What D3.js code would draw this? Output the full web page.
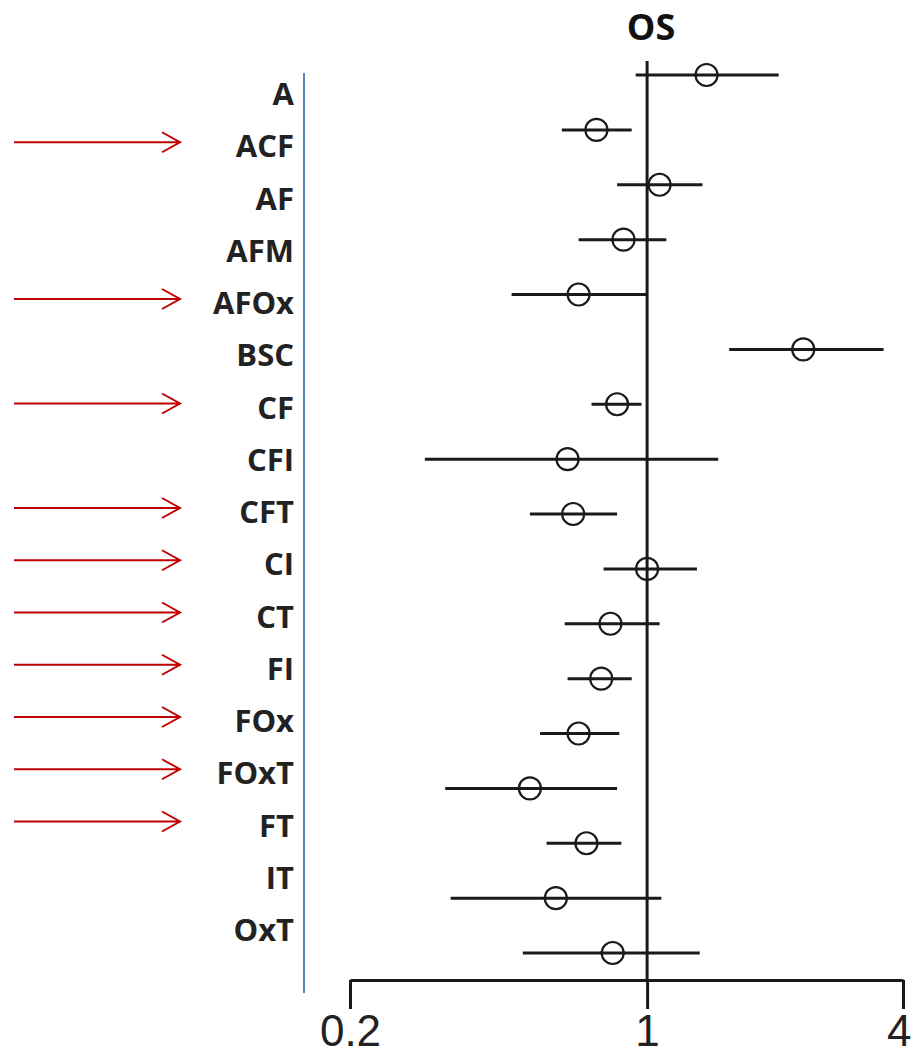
<!DOCTYPE html>
<html>
<head>
<meta charset="utf-8">
<script src="https://cdn.jsdelivr.net/npm/d3@7"></script>
<style>
  html, body { margin: 0; padding: 0; background: #fff; }
  svg { display: block; }
</style>
</head>
<body>
<svg id="chart" width="911" height="1057"></svg>
<script>
// Regimen groups and their hazard ratios for overall survival
const categories = ["A", "ACF", "AF", "AFM", "AFOx", "BSC", "CF", "CFI", "CFT", "CI", "CT", "FI", "FOx", "FOxT", "FT", "IT", "OxT"];
const hr      = [1.38, 0.76, 1.07, 0.88, 0.69, 2.33, 0.85, 0.65, 0.67, 1.00, 0.82, 0.78, 0.69, 0.53, 0.72, 0.61, 0.83];
const ciLower = [0.94, 0.63, 0.85, 0.69, 0.48, 1.56, 0.74, 0.30, 0.53, 0.79, 0.64, 0.65, 0.56, 0.335, 0.58, 0.345, 0.51];
const ciUpper = [2.04, 0.92, 1.35, 1.11, 1.00, 3.60, 0.97, 1.47, 0.85, 1.31, 1.07, 0.92, 0.86, 0.85, 0.87, 1.08, 1.33];
// Groups flagged with a pointer arrow
const highlighted = ["ACF", "AFOx", "CF", "CFT", "CI", "CT", "FI", "FOx", "FOxT", "FT"];
const tickValues = [0.2, 1, 4];
const tickLabels = ["0.2", "1", "4"];
const title = "OS";

const rows = categories.map((c, i) => ({ name: c, hr: hr[i], lo: ciLower[i], hi: ciUpper[i] }));

const svg = d3.select("#chart");

const x = d3.scaleLog().domain([0.2, 4]).range([350, 903]);
const y = d3.scalePoint().domain(categories).range([75, 953]);
const yLabel = d3.scalePoint().domain(categories).range([94, 930]);
const axisY = 980;

// Title
svg.append("text")
  .attr("x", 651).attr("y", 40)
  .attr("text-anchor", "middle")
  .attr("font-family", "'Open Sans', sans-serif")
  .attr("font-weight", 700)
  .attr("font-size", 36)
  .attr("fill", "#111")
  .text(title);

// Separator between labels and plot
svg.append("line")
  .attr("x1", 304).attr("x2", 304)
  .attr("y1", 73).attr("y2", 993)
  .attr("stroke", "#5a87b8").attr("stroke-width", 2);

// Reference line at HR = 1
svg.append("line")
  .attr("x1", x(1)).attr("x2", x(1))
  .attr("y1", 61).attr("y2", axisY)
  .attr("stroke", "#1a1a1a").attr("stroke-width", 3);

// Bottom axis
const axis = d3.axisBottom(x)
  .tickValues(tickValues)
  .tickFormat((d, i) => tickLabels[i])
  .tickSize(29)
  .tickSizeOuter(0)
  .tickPadding(6);

const gAxis = svg.append("g")
  .attr("transform", `translate(0,${axisY})`)
  .call(axis);
gAxis.select(".domain").attr("stroke", "#1a1a1a").attr("stroke-width", 3);
gAxis.selectAll(".tick line").attr("stroke", "#1a1a1a").attr("stroke-width", 3);
gAxis.selectAll(".tick text")
  .attr("font-family", "'Liberation Sans', Arial, sans-serif")
  .attr("font-size", 44)
  .attr("fill", "#222")
  .attr("dy", "0.71em");
// keep the last label inside the page edge
gAxis.selectAll(".tick text")
  .filter(d => d === tickValues[tickValues.length - 1])
  .attr("text-anchor", "end")
  .attr("x", 911 - x(tickValues[tickValues.length - 1]));

// Confidence intervals
const gRows = svg.append("g");
gRows.selectAll("line.ci")
  .data(rows)
  .join("line")
  .attr("class", "ci")
  .attr("x1", d => x(d.lo)).attr("x2", d => x(d.hi))
  .attr("y1", d => y(d.name)).attr("y2", d => y(d.name))
  .attr("stroke", "#1a1a1a").attr("stroke-width", 3);

// Point estimates
gRows.selectAll("circle.pt")
  .data(rows)
  .join("circle")
  .attr("class", "pt")
  .attr("cx", d => x(d.hr))
  .attr("cy", d => y(d.name))
  .attr("r", 11)
  .attr("fill", "none")
  .attr("stroke", "#1a1a1a").attr("stroke-width", 2.2);

// Group labels
svg.append("g").selectAll("text")
  .data(categories)
  .join("text")
  .attr("x", 294)
  .attr("y", d => yLabel(d))
  .attr("dy", "0.36em")
  .attr("text-anchor", "end")
  .attr("font-family", "'Open Sans', sans-serif")
  .attr("font-weight", 700)
  .attr("font-size", 31)
  .attr("fill", "#222")
  .text(d => d);

// Pointer arrows
const arrows = svg.append("g")
  .attr("fill", "none")
  .attr("stroke", "#c00000")
  .attr("stroke-width", 2);
arrows.selectAll("path")
  .data(highlighted)
  .join("path")
  .attr("d", d => {
    const yy = yLabel(d) - 4;
    return `M14,${yy}H180M162,${yy - 10}L180,${yy}L162,${yy + 10}`;
  });
</script>
</body>
</html>
